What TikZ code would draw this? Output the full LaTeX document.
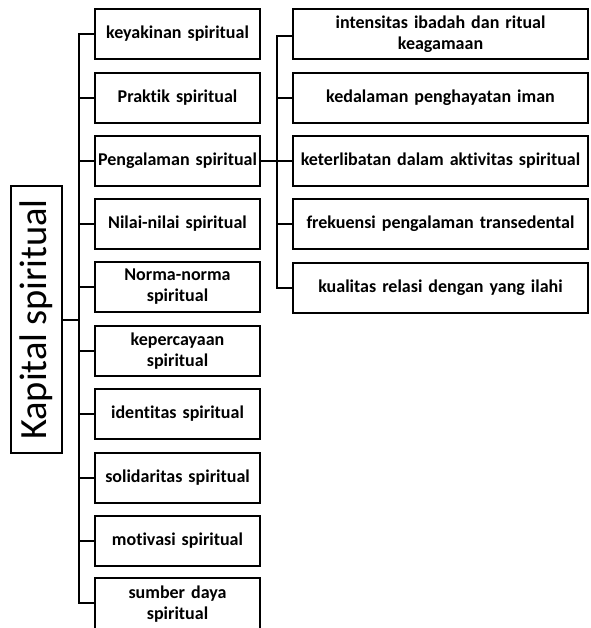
\documentclass[tikz,border=0pt]{standalone}
\usepackage{fontspec}
\setmainfont{Carlito}[Ligatures=NoCommon,WordSpace=0.85]
\begin{document}
\begin{tikzpicture}[x=1pt,y=-1pt,
  lbox/.style={draw,line width=2pt,minimum width=165pt,minimum height=50pt,inner sep=0pt,align=center,font=\bfseries\fontsize{18}{21}\selectfont,text width=163pt},
  rbox/.style={lbox,minimum width=295pt,text width=293pt},
  conn/.style={line width=2pt}]
\useasboundingbox (0,0) rectangle (590,628);
\clip (0,0) rectangle (590,628);
\node[draw,line width=1.5pt,minimum width=51pt,minimum height=267pt,inner sep=0pt] (root) at (36.5,319.5) {};
\node[rotate=90,font=\fontsize{38.5}{42}\selectfont] (roottext) at (root.center) {Kapital spiritual};
\node[lbox] (a1) at (177.5,34) {keyakinan spiritual};
\node[lbox] (a2) at (177.5,98) {Praktik spiritual};
\node[lbox] (a3) at (177.5,161) {Pengalaman spiritual};
\node[lbox] (a4) at (177.5,224) {Nilai-nilai spiritual};
\node[lbox] (a5) at (177.5,287) {Norma-norma\\spiritual};
\node[lbox] (a6) at (177.5,351) {kepercayaan\\spiritual};
\node[lbox] (a7) at (177.5,414) {identitas spiritual};
\node[lbox] (a8) at (177.5,477.5) {solidaritas spiritual};
\node[lbox] (a9) at (177.5,540.5) {motivasi spiritual};
\node[lbox,minimum height=52pt] (a10) at (177.5,604) {sumber daya\\spiritual};
\node[rbox] (b1) at (440.5,34.5) {intensitas ibadah dan ritual\\keagamaan};
\node[rbox] (b2) at (440.5,98) {kedalaman penghayatan iman};
\node[rbox] (b3) at (440.5,161) {keterlibatan dalam aktivitas spiritual};
\node[rbox] (b4) at (440.5,224) {frekuensi pengalaman transedental};
\node[rbox] (b5) at (440.5,288) {kualitas relasi dengan yang ilahi};
\coordinate (t1) at (79,34);
\coordinate (t10) at (79,603);
\draw[conn] (root.east) -- (root.east -| t1);
\draw[conn] (a1.west) -- (t1) -- (t10) -- (a10.west |- t10);
\foreach \i in {2,...,9} \draw[conn] (a\i.west) -- (a\i.west -| t1);
\coordinate (u1) at (277,36);
\coordinate (u5) at (277,288);
\draw[conn] (a3.east) -- (a3.east -| u1);
\draw[conn] (b1.west |- u1) -- (u1) -- (u5) -- (b5.west);
\foreach \i in {2,3,4} \draw[conn] (b\i.west) -- (b\i.west -| u1);
\end{tikzpicture}
\end{document}
